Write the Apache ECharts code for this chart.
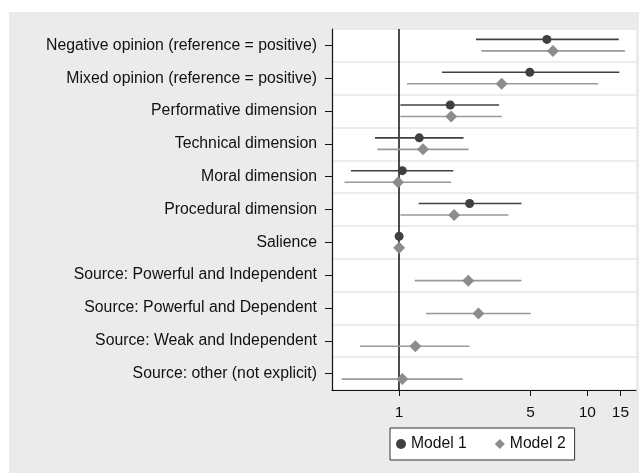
<!DOCTYPE html>
<html>
<head>
<meta charset="utf-8">
<script src="https://cdn.jsdelivr.net/npm/echarts@6/dist/echarts.min.js"></script>
<style>
html,body{margin:0;padding:0;background:#ffffff;}
#chart{position:absolute;left:9px;top:12px;width:630px;height:461px;}
</style>
</head>
<body>
<div id="chart"></div>
<script>
const categories = [
  'Negative opinion (reference = positive)',
  'Mixed opinion (reference = positive)',
  'Performative dimension',
  'Technical dimension',
  'Moral dimension',
  'Procedural dimension',
  'Salience',
  'Source: Powerful and Independent',
  'Source: Powerful and Dependent',
  'Source: Weak and Independent',
  'Source: other (not explicit)'
];
const m1Est = [6.1, 4.95, 1.87, 1.28, 1.04, 2.37, 1.0, null, null, null, null];
const m1Lo  = [2.56, 1.69, 1.016, 0.745, 0.555, 1.27, 0.99, null, null, null, null];
const m1Hi  = [14.7, 14.8, 3.40, 2.20, 1.94, 4.47, 1.01, null, null, null, null];
const m2Est = [6.57, 3.51, 1.89, 1.34, 0.988, 1.96, 1.0, 2.33, 2.64, 1.22, 1.04];
const m2Lo  = [2.73, 1.10, 1.016, 0.766, 0.513, 1.016, 0.99, 1.21, 1.39, 0.62, 0.495];
const m2Hi  = [15.85, 11.4, 3.51, 2.34, 1.89, 3.81, 1.01, 4.47, 5.0, 2.37, 2.18];
const xTicks = [1, 5, 10, 15];
const xMin = 0.44, xMax = 18.15;

const L = Math.log10;
function pts(est) {
  const out = [];
  est.forEach((v, i) => { if (v != null) out.push([L(v), i]); });
  return out;
}
function bars(lo, hi) {
  const out = [];
  lo.forEach((v, i) => { if (v != null) out.push([L(v), i, L(hi[i])]); });
  return out;
}
function barSeries(name, data, dy, color) {
  return {
    type: 'custom',
    name: name,
    data: data,
    z: 2,
    renderItem: function (params, api) {
      const a = api.coord([api.value(0), api.value(1)]);
      const b = api.coord([api.value(2), api.value(1)]);
      return {
        type: 'line',
        shape: { x1: a[0], y1: a[1] + dy, x2: b[0], y2: b[1] + dy },
        style: { stroke: color, lineWidth: 1.6 }
      };
    }
  };
}

const chart = echarts.init(document.getElementById('chart'));
chart.setOption({
  backgroundColor: '#ebebeb',
  animation: false,
  textStyle: { fontFamily: 'Liberation Sans, Arial, sans-serif' },
  grid: {
    left: 323, top: 17, right: 3, bottom: 83,
    show: true, backgroundColor: '#ffffff', borderWidth: 0
  },
  xAxis: {
    type: 'value',
    min: L(xMin), max: L(xMax),
    axisLine: { show: true, onZero: false, lineStyle: { color: '#111', width: 1.2 } },
    axisTick: { show: true, length: 6, lineStyle: { color: '#111' }, customValues: xTicks.map(L) },
    axisLabel: {
      customValues: xTicks.map(L),
      formatter: v => String(Math.round(Math.pow(10, v))),
      color: '#111', fontSize: 15.5, margin: 15
    },
    splitLine: { show: false }
  },
  yAxis: {
    type: 'category',
    data: categories,
    inverse: true,
    boundaryGap: true,
    axisLine: { show: true, onZero: false, lineStyle: { color: '#111', width: 1.2 } },
    axisTick: { show: true, length: 7, alignWithLabel: true, lineStyle: { color: '#111' } },
    axisLabel: { color: '#111', fontSize: 15.8, margin: 15 },
    splitLine: { show: true, lineStyle: { color: '#e6e6e6', width: 1.5 } }
  },
  legend: {
    data: ['Model 1', 'Model 2'],
    left: 381, top: 416,
    orient: 'horizontal',
    backgroundColor: '#ffffff',
    borderColor: '#333', borderWidth: 1, borderRadius: 0,
    padding: [8, 9, 8, 6],
    itemWidth: 10, itemHeight: 10, itemGap: 28,
    textStyle: { fontSize: 15.7, color: '#111' }
  },
  series: [
    barSeries('m1bars', bars(m1Lo, m1Hi), -6, '#404040'),
    barSeries('m2bars', bars(m2Lo, m2Hi), 5.5, '#999999'),
    {
      type: 'scatter', name: 'Model 1', data: pts(m1Est),
      symbol: 'circle', symbolSize: 9, symbolOffset: [0, -6], z: 5,
      itemStyle: { color: '#404040', opacity: 1 },
      markLine: {
        silent: true, symbol: 'none', label: { show: false }, z: 1,
        lineStyle: { color: '#111', width: 1.5, type: 'solid' },
        data: [{ xAxis: 0 }]
      }
    },
    {
      type: 'scatter', name: 'Model 2', data: pts(m2Est),
      symbol: 'diamond', symbolSize: 12, symbolOffset: [0, 5.5], z: 5,
      itemStyle: { color: '#8c8c8c', opacity: 1 }
    }
  ]
});
</script>
</body>
</html>
